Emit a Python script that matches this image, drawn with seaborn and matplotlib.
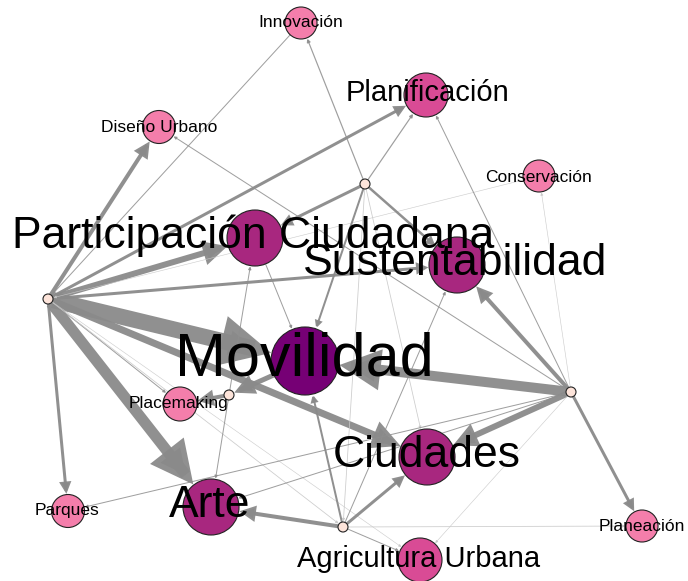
import matplotlib
matplotlib.use("Agg")
import matplotlib.pyplot as plt
from matplotlib.patches import FancyArrowPatch
import seaborn as sns
import pandas as pd

# ---- nodes ----
node_names = ["Innovación", "Planificación", "Diseño Urbano", "Conservación",
              "Participación Ciudadana", "Sustentabilidad", "Movilidad",
              "Placemaking", "Ciudades", "Arte", "Parques", "Planeación",
              "Agricultura Urbana", "h1", "h2", "h3", "h4", "h5"]
node_x = [301, 426, 159, 539, 255, 457, 305, 180, 427, 211, 68, 642, 420,
          48, 365, 571, 229, 343]
node_y = [23, 95, 127, 176, 238, 265, 361, 404, 457, 507, 511, 526, 560,
          299, 184, 392, 395, 527]
node_r = [16, 22, 16.5, 16, 28, 28, 34, 17, 28, 28, 16.5, 16, 22,
          5, 5, 5, 5, 5]
node_color = ["#f47eab", "#d94b95", "#f47eab", "#f47eab", "#a8277f", "#a8277f",
              "#760075", "#f47eab", "#a8277f", "#a8277f", "#f47eab", "#f47eab",
              "#d94b95", "#fde4da", "#fde4da", "#fde4da", "#fde4da", "#fde4da"]

# ---- labels ----
label_text = ["Innovación", "Planificación", "Diseño Urbano", "Conservación",
              "Participación Ciudadana", "Sustentabilidad", "Movilidad",
              "Placemaking", "Ciudades", "Arte", "Parques", "Planeación",
              "Agricultura Urbana"]
label_x = [301, 427, 159, 538, 253, 455, 304, 179, 427, 210, 67, 642, 419]
label_baseline = [27, 101, 132, 182, 248, 275, 375, 408, 467, 517, 515, 531, 567]
label_size = [12.5, 21, 12.5, 12.5, 32, 32, 44, 12.5, 32, 32, 12.5, 12.5, 21]

# ---- edges (source, target, width in px) ----
edge_src = ["h1", "h1", "h1", "h1", "h1", "h1", "h1", "h1", "h1", "h1", "h1",
            "Innovación", "Conservación",
            "h2", "h2", "h2", "h2", "h2", "h2", "h2",
            "h3", "h3", "h3", "h3", "h3", "h3", "h3", "h3", "h3", "h3",
            "h4", "Movilidad", "h4", "h4", "Participación Ciudadana",
            "h5", "h5", "h5", "h5", "h5", "h5"]
edge_dst = ["Diseño Urbano", "Planificación", "Participación Ciudadana",
            "Sustentabilidad", "Movilidad", "Ciudades", "Arte", "Parques",
            "Placemaking", "h5", "Agricultura Urbana",
            "h1", "h1",
            "Participación Ciudadana", "Planificación", "Innovación",
            "Sustentabilidad", "Movilidad", "Ciudades", "h5",
            "Sustentabilidad", "Movilidad", "Ciudades", "Planeación",
            "Diseño Urbano", "Planificación", "Parques", "Arte",
            "Conservación", "Agricultura Urbana",
            "Placemaking", "h4", "Participación Ciudadana", "Arte", "Movilidad",
            "Arte", "Ciudades", "Movilidad", "Agricultura Urbana",
            "Planeación", "Sustentabilidad"]
edge_w = [4, 3, 6, 3, 16, 7, 11, 3, 1, 0.8, 0.6,
          1, 0.6,
          3, 1.2, 1.2, 2.5, 2, 0.8, 0.8,
          4, 10, 6, 3, 1, 1, 1, 1, 0.6, 0.6,
          4, 5, 1, 1, 1,
          4, 3, 2, 1, 0.8, 1]

sns.set_theme(style="white")
plt.rcParams["font.family"] = ["Liberation Sans", "DejaVu Sans"]

fig = plt.figure(figsize=(6.88, 5.81), dpi=100)
ax = fig.add_axes([0, 0, 1, 1])

pos = {n: (x, y) for n, x, y in zip(node_names, node_x, node_y)}
rad = {n: r for n, r in zip(node_names, node_r)}
px2pt = 0.72

for s, d, w in zip(edge_src, edge_dst, edge_w):
    lw = w * px2pt
    if w >= 2:
        col, alpha = "#8a8a8a", 0.95
    elif w >= 1:
        col, alpha = "#8e8e8e", 0.85
    else:
        col, alpha = "#c8c8c8", 0.9
    ms = min(max(6.25 * lw, 4), 45)
    arr = FancyArrowPatch(pos[s], pos[d], arrowstyle="-|>",
                          mutation_scale=ms, lw=lw, color=col, alpha=alpha,
                          shrinkA=rad[s] * px2pt, shrinkB=rad[d] * px2pt + 0.5,
                          capstyle="butt", joinstyle="miter", zorder=1)
    ax.add_patch(arr)

df = pd.DataFrame({"name": node_names, "x": node_x, "y": node_y})
sizes = {n: (2 * r * px2pt) ** 2 for n, r in zip(node_names, node_r)}
palette = {n: c for n, c in zip(node_names, node_color)}
sns.scatterplot(data=df, x="x", y="y", hue="name", size="name",
                palette=palette, sizes=sizes, legend=False, ax=ax,
                edgecolor="#222222", linewidth=0.8, zorder=2)
ax.set_xlim(0, 688)
ax.set_ylim(581, 0)
ax.axis("off")

for t, x, y, fs in zip(label_text, label_x, label_baseline, label_size):
    ax.text(x, y, t, fontsize=fs, ha="center", va="baseline",
            color="black", zorder=3)

fig.savefig("out.png", dpi=100, facecolor="white")
